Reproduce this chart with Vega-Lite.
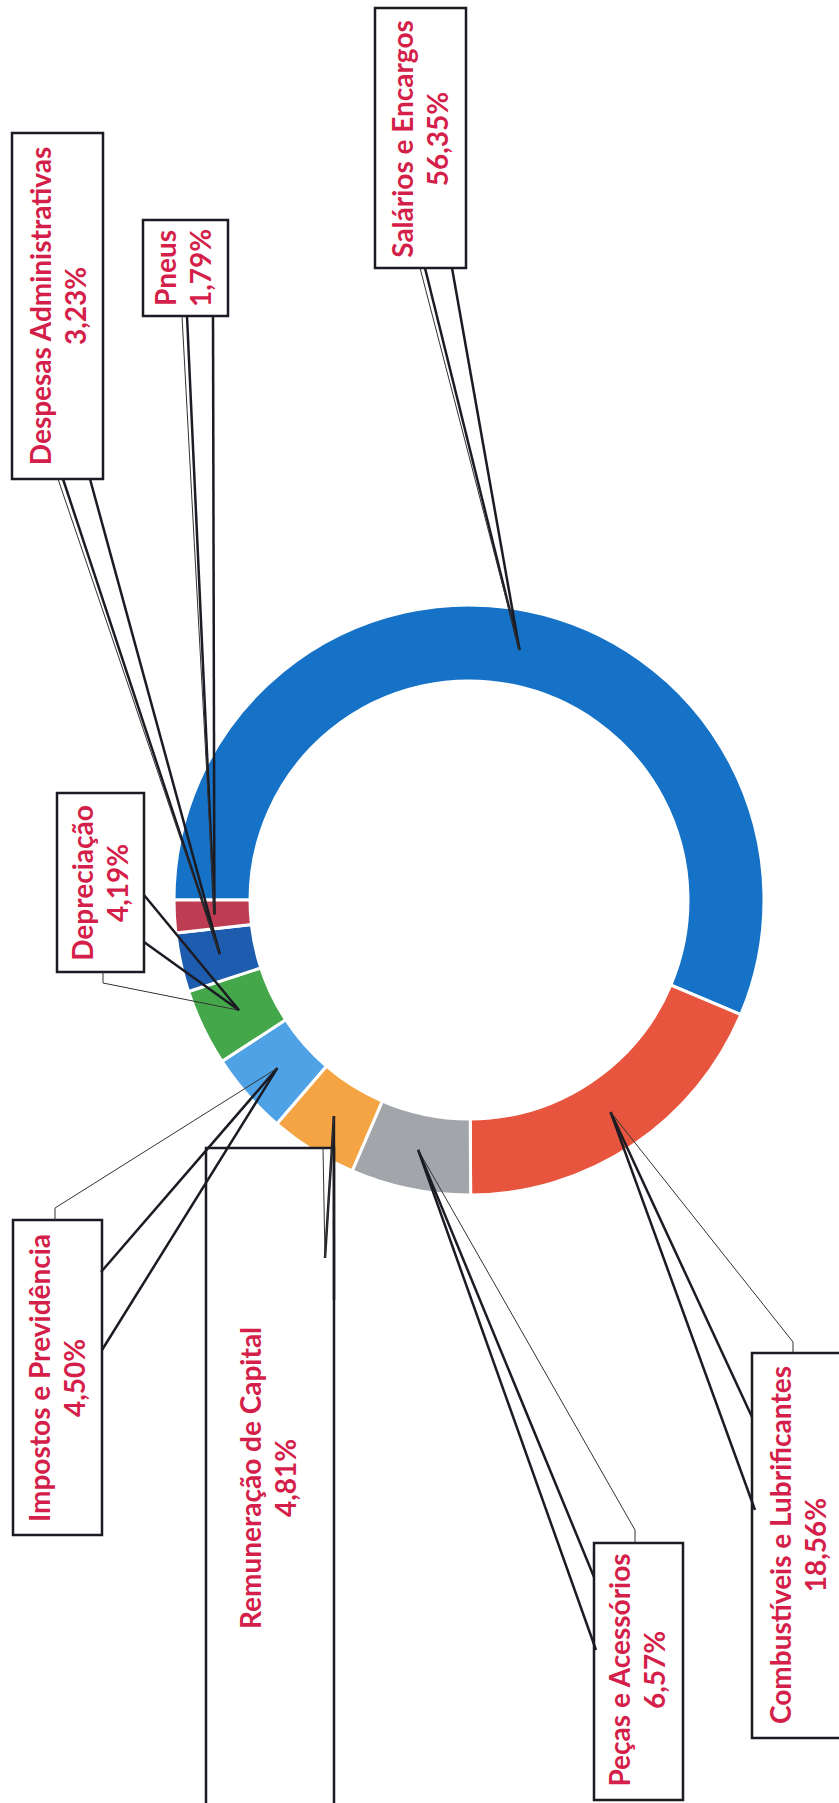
{
  "$schema": "https://vega.github.io/schema/vega-lite/v6.json",
  "width": 740,
  "height": 1800,
  "padding": {"left": 99, "top": 0, "right": 0, "bottom": 3},
  "autosize": {"type": "none"},
  "background": "white",
  "config": {"view": {"stroke": null}},
  "data": {"values": [
    {"item": "Salários e Encargos", "value": 56.35},
    {"item": "Combustíveis e Lubrificantes", "value": 18.56},
    {"item": "Peças e Acessórios", "value": 6.57},
    {"item": "Remuneração de Capital", "value": 4.81},
    {"item": "Impostos e Previdência", "value": 4.50},
    {"item": "Depreciação", "value": 4.19},
    {"item": "Despesas Administrativas", "value": 3.23},
    {"item": "Pneus", "value": 1.79}
  ]},
  "transform": [
    {"window": [{"op": "row_number", "as": "idx"}]},
    {"window": [{"op": "sum", "field": "value", "as": "cum"}], "sort": [{"field": "idx"}], "frame": [null, 0]},
    {"joinaggregate": [{"op": "sum", "field": "value", "as": "total"}]},
    {"calculate": "3*PI/2 + 2*PI*(datum.cum - datum.value/2)/datum.total", "as": "ang"},
    {"calculate": "469 + 255*sin(datum.ang)", "as": "tipX"},
    {"calculate": "900 - 255*cos(datum.ang)", "as": "tipY"},
    {"calculate": "datum.item + '\\n' + replace(format(datum.value, '.2f'), '.', ',') + '%'", "as": "label"},
    {"calculate": "datum.item === 'Salários e Encargos' ? 375 : datum.item === 'Pneus' ? 143 : datum.item === 'Despesas Administrativas' ? 12 : datum.item === 'Depreciação' ? 57 : datum.item === 'Remuneração de Capital' ? 206 : datum.item === 'Impostos e Previdência' ? 13 : datum.item === 'Peças e Acessórios' ? 594 : 752", "as": "bx1"},
    {"calculate": "datum.item === 'Salários e Encargos' ? 466 : datum.item === 'Pneus' ? 228 : datum.item === 'Despesas Administrativas' ? 103 : datum.item === 'Depreciação' ? 144 : datum.item === 'Remuneração de Capital' ? 334 : datum.item === 'Impostos e Previdência' ? 102 : datum.item === 'Peças e Acessórios' ? 683 : 850", "as": "bx2"},
    {"calculate": "datum.item === 'Salários e Encargos' ? 8 : datum.item === 'Pneus' ? 220 : datum.item === 'Despesas Administrativas' ? 133 : datum.item === 'Depreciação' ? 793 : datum.item === 'Remuneração de Capital' ? 1148 : datum.item === 'Impostos e Previdência' ? 1220 : datum.item === 'Peças e Acessórios' ? 1543 : 1353", "as": "by1"},
    {"calculate": "datum.item === 'Salários e Encargos' ? 268 : datum.item === 'Pneus' ? 316 : datum.item === 'Despesas Administrativas' ? 479 : datum.item === 'Depreciação' ? 972 : datum.item === 'Remuneração de Capital' ? 1830 : datum.item === 'Impostos e Previdência' ? 1535 : datum.item === 'Peças e Acessórios' ? 1800 : 1738", "as": "by2"},
    {"calculate": "datum.item === 'Salários e Encargos' ? 425 : datum.item === 'Pneus' ? 187 : datum.item === 'Despesas Administrativas' ? 63 : datum.item === 'Depreciação' ? 144 : datum.item === 'Remuneração de Capital' ? 325 : datum.item === 'Impostos e Previdência' ? 101 : datum.item === 'Peças e Acessórios' ? 594 : 752", "as": "w1x"},
    {"calculate": "datum.item === 'Salários e Encargos' ? 268 : datum.item === 'Pneus' ? 316 : datum.item === 'Despesas Administrativas' ? 479 : datum.item === 'Depreciação' ? 895 : datum.item === 'Remuneração de Capital' ? 1258 : datum.item === 'Impostos e Previdência' ? 1272 : datum.item === 'Peças e Acessórios' ? 1577 : 1417", "as": "w1y"},
    {"calculate": "datum.item === 'Salários e Encargos' ? 452 : datum.item === 'Pneus' ? 213 : datum.item === 'Despesas Administrativas' ? 90 : datum.item === 'Depreciação' ? 144 : datum.item === 'Remuneração de Capital' ? 334 : datum.item === 'Impostos e Previdência' ? 102 : datum.item === 'Peças e Acessórios' ? 596 : 755", "as": "w2x"},
    {"calculate": "datum.item === 'Salários e Encargos' ? 268 : datum.item === 'Pneus' ? 316 : datum.item === 'Despesas Administrativas' ? 479 : datum.item === 'Depreciação' ? 942 : datum.item === 'Remuneração de Capital' ? 1300 : datum.item === 'Impostos e Previdência' ? 1350 : datum.item === 'Peças e Acessórios' ? 1650 : 1510", "as": "w2y"},
    {"calculate": "datum.item === 'Salários e Encargos' ? 420 : datum.item === 'Pneus' ? 182 : datum.item === 'Despesas Administrativas' ? 58 : datum.item === 'Depreciação' ? 103 : datum.item === 'Remuneração de Capital' ? 323 : datum.item === 'Impostos e Previdência' ? 55 : datum.item === 'Peças e Acessórios' ? 635 : 793", "as": "t1x"},
    {"calculate": "datum.item === 'Salários e Encargos' ? 268 : datum.item === 'Pneus' ? 316 : datum.item === 'Despesas Administrativas' ? 479 : datum.item === 'Depreciação' ? 972 : datum.item === 'Remuneração de Capital' ? 1148 : datum.item === 'Impostos e Previdência' ? 1220 : datum.item === 'Peças e Acessórios' ? 1543 : 1353", "as": "t1y"},
    {"calculate": "datum.item === 'Salários e Encargos' ? 420 : datum.item === 'Pneus' ? 182 : datum.item === 'Despesas Administrativas' ? 58 : datum.item === 'Depreciação' ? 103 : datum.item === 'Remuneração de Capital' ? 325 : datum.item === 'Impostos e Previdência' ? 55 : datum.item === 'Peças e Acessórios' ? 635 : 793", "as": "t2x"},
    {"calculate": "datum.item === 'Salários e Encargos' ? 268 : datum.item === 'Pneus' ? 316 : datum.item === 'Despesas Administrativas' ? 479 : datum.item === 'Depreciação' ? 983 : datum.item === 'Remuneração de Capital' ? 1258 : datum.item === 'Impostos e Previdência' ? 1208 : datum.item === 'Peças e Acessórios' ? 1530 : 1342", "as": "t2y"},
    {"calculate": "datum.item === 'Salários e Encargos' ? 405 : datum.item === 'Pneus' ? 168 : datum.item === 'Despesas Administrativas' ? 43 : datum.item === 'Depreciação' ? 85 : datum.item === 'Remuneração de Capital' ? 253 : datum.item === 'Impostos e Previdência' ? 42 : datum.item === 'Peças e Acessórios' ? 622 : 783", "as": "tx"},
    {"calculate": "datum.item === 'Salários e Encargos' ? 139 : datum.item === 'Pneus' ? 268 : datum.item === 'Despesas Administrativas' ? 306 : datum.item === 'Depreciação' ? 883 : datum.item === 'Remuneração de Capital' ? 1478 : datum.item === 'Impostos e Previdência' ? 1378 : datum.item === 'Peças e Acessórios' ? 1670 : 1545", "as": "ty"}
  ],
  "resolve": {"scale": {"x": "independent", "y": "independent", "theta": "independent", "color": "independent"}},
  "layer": [
    {
      "mark": {"type": "arc", "innerRadius": 219, "outerRadius": 295, "stroke": "white", "strokeWidth": 3},
      "encoding": {
        "theta": {"field": "value", "type": "quantitative", "stack": true, "scale": {"range": [4.71238898, 10.99557429]}},
        "color": {"field": "item", "type": "nominal", "legend": null, "scale": {
          "domain": ["Salários e Encargos", "Combustíveis e Lubrificantes", "Peças e Acessórios", "Remuneração de Capital", "Impostos e Previdência", "Depreciação", "Despesas Administrativas", "Pneus"],
          "range": ["#1672C6", "#E8553F", "#A2A6AA", "#F4A443", "#4FA2E6", "#44A84A", "#1E5CAF", "#BF3D52"]}},
        "order": {"field": "idx", "type": "quantitative"}
      }
    },
    {
      "encoding": {
        "x": {"field": "bx1", "type": "quantitative", "axis": null, "scale": {"domain": [99, 839], "nice": false, "zero": false}},
        "y": {"field": "by1", "type": "quantitative", "axis": null, "scale": {"domain": [0, 1800], "nice": false, "zero": false, "reverse": true}}
      },
      "layer": [
        {"mark": {"type": "rect", "fill": "white", "stroke": "#1b1b24", "strokeWidth": 2.5},
         "encoding": {"x2": {"field": "bx2"}, "y2": {"field": "by2"}}},
        {"mark": {"type": "rule", "stroke": "#1b1b24", "strokeWidth": 2.5},
         "encoding": {"x": {"field": "w1x", "type": "quantitative"}, "y": {"field": "w1y", "type": "quantitative"}, "x2": {"field": "tipX"}, "y2": {"field": "tipY"}}},
        {"mark": {"type": "rule", "stroke": "#1b1b24", "strokeWidth": 2.5},
         "encoding": {"x": {"field": "w2x", "type": "quantitative"}, "y": {"field": "w2y", "type": "quantitative"}, "x2": {"field": "tipX"}, "y2": {"field": "tipY"}}},
        {"mark": {"type": "rule", "stroke": "#333333", "strokeWidth": 1},
         "encoding": {"x": {"field": "t1x", "type": "quantitative"}, "y": {"field": "t1y", "type": "quantitative"}, "x2": {"field": "t2x"}, "y2": {"field": "t2y"}}},
        {"mark": {"type": "rule", "stroke": "#333333", "strokeWidth": 1},
         "encoding": {"x": {"field": "t2x", "type": "quantitative"}, "y": {"field": "t2y", "type": "quantitative"}, "x2": {"field": "tipX"}, "y2": {"field": "tipY"}}},
        {"mark": {"type": "text", "angle": 270, "align": "center", "baseline": "middle", "font": "Lato", "fontWeight": "bold", "fontSize": 28, "lineHeight": 35, "lineBreak": "\n", "fill": "#D41F4A"},
         "encoding": {"x": {"field": "tx", "type": "quantitative"}, "y": {"field": "ty", "type": "quantitative"}, "text": {"field": "label", "type": "nominal"}}}
      ]
    }
  ]
}
